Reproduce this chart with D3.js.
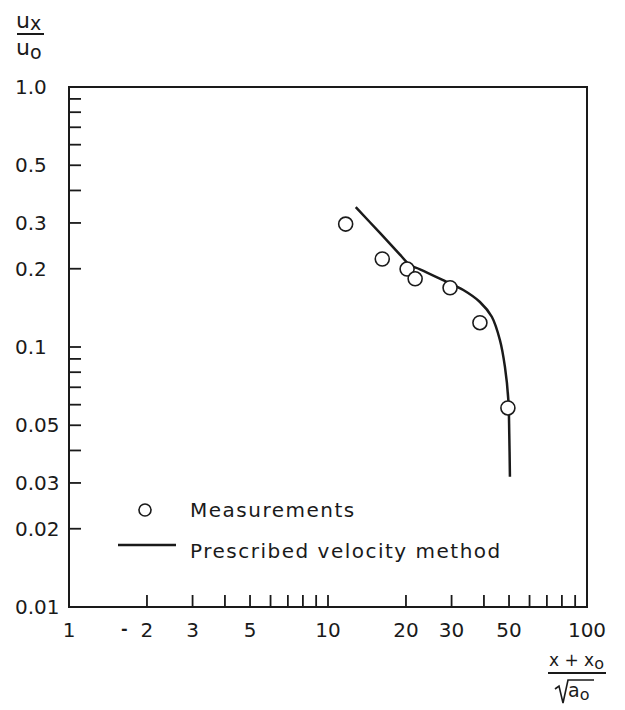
<!DOCTYPE html>
<html>
<head>
<meta charset="utf-8">
<script src="https://cdnjs.cloudflare.com/ajax/libs/d3/7.8.5/d3.min.js"></script>
<style>
  body { margin: 0; background: #fff; font-family: "DejaVu Sans", sans-serif; }
  text { fill: #1a1a1a; }
</style>
</head>
<body>
<div id="chart"></div>
<script>
// measured points (x + xo)/sqrt(ao), ux/uo
var measX = [11.7, 16.2, 20.2, 21.7, 29.6, 38.6, 49.5];
var measY = [0.297, 0.218, 0.1995, 0.183, 0.169, 0.124, 0.0583];

// prescribed velocity method curve
var curveX = [12.8, 15.9, 19.0, 20.7, 22.65, 28.7, 33.3, 38.6, 42.9, 46.1, 48.2, 49.7, 50.1, 50.4];
var curveY = [0.345, 0.274, 0.226, 0.2067, 0.199, 0.178, 0.1657, 0.149, 0.1307, 0.1064, 0.084, 0.0625, 0.0466, 0.0317];

// ticks
var xTicks = [2, 3, 4, 5, 6, 7, 8, 9, 10, 20, 30, 40, 50, 60, 70, 80, 90];
var xLabels = [1, 2, 3, 5, 10, 20, 30, 50, 100];
var yTicks = [0.9, 0.8, 0.7, 0.6, 0.5, 0.4, 0.3, 0.2, 0.1, 0.09, 0.08, 0.07, 0.06, 0.05, 0.04, 0.03, 0.02];
var yLabels = [1.0, 0.5, 0.3, 0.2, 0.1, 0.05, 0.03, 0.02, 0.01];

var legendItems = ["Measurements", "Prescribed velocity method"];

var margin = {top: 87, right: 38, bottom: 103, left: 69};
var W = 625, H = 710;
var width = W - margin.left - margin.right,
    height = H - margin.top - margin.bottom;

var svg = d3.select("#chart").append("svg")
    .attr("width", W)
    .attr("height", H);

var g = svg.append("g")
    .attr("transform", "translate(" + margin.left + "," + margin.top + ")");

var x = d3.scaleLog().domain([1, 100]).range([0, width]);
var y = d3.scaleLog().domain([0.01, 1]).range([height, 0]);

// frame
g.append("rect")
    .attr("width", width)
    .attr("height", height)
    .attr("fill", "none")
    .attr("stroke", "#1a1a1a")
    .attr("stroke-width", 2);

// inner ticks
g.selectAll(".xt").data(xTicks).enter().append("line")
    .attr("x1", d => x(d)).attr("x2", d => x(d))
    .attr("y1", height).attr("y2", height - 12)
    .attr("stroke", "#1a1a1a").attr("stroke-width", 1.8);

g.selectAll(".yt").data(yTicks).enter().append("line")
    .attr("x1", 0).attr("x2", 12)
    .attr("y1", d => y(d)).attr("y2", d => y(d))
    .attr("stroke", "#1a1a1a").attr("stroke-width", 1.8);

// tick labels
g.selectAll(".xl").data(xLabels).enter().append("text")
    .attr("x", d => x(d))
    .attr("y", height + 30)
    .attr("text-anchor", "middle")
    .style("font-size", "20px")
    .text(d => d);

// stray dash next to "2" in the original
g.append("text")
    .attr("x", x(2) - 26)
    .attr("y", height + 27)
    .style("font-size", "16px")
    .style("font-weight", "bold")
    .text("-");

var yFmt = function(d) { return d === 1 ? "1.0" : String(d); };
g.selectAll(".yl").data(yLabels).enter().append("text")
    .attr("x", -54)
    .attr("y", d => y(d))
    .attr("dy", "0.35em")
    .style("font-size", "20px")
    .text(yFmt);

// curve
var line = d3.line()
    .x(d => x(d[0]))
    .y(d => y(d[1]))
    .curve(d3.curveCatmullRom.alpha(0.5));

g.append("path")
    .datum(curveX.map((v, i) => [v, curveY[i]]))
    .attr("d", line)
    .attr("fill", "none")
    .attr("stroke", "#1a1a1a")
    .attr("stroke-width", 2.5);

// measurements
g.selectAll(".pt").data(measX.map((v, i) => [v, measY[i]])).enter().append("circle")
    .attr("cx", d => x(d[0]))
    .attr("cy", d => y(d[1]))
    .attr("r", 7)
    .attr("fill", "#fff")
    .attr("stroke", "#1a1a1a")
    .attr("stroke-width", 1.6);

// legend
var legend = svg.append("g").attr("class", "legend");
legend.append("circle")
    .attr("cx", 145).attr("cy", 510).attr("r", 6)
    .attr("fill", "none").attr("stroke", "#1a1a1a").attr("stroke-width", 1.6);
legend.append("line")
    .attr("x1", 118).attr("x2", 176).attr("y1", 545).attr("y2", 545)
    .attr("stroke", "#1a1a1a").attr("stroke-width", 2.5);
legend.selectAll(".lt").data(legendItems).enter().append("text")
    .attr("x", 190)
    .attr("y", (d, i) => 517 + i * 41)
    .style("font-size", "20px")
    .style("letter-spacing", "1.5px")
    .text(d => d);

// y axis title: ux / uo
var yt = svg.append("g");
var num = yt.append("text").attr("x", 16).attr("y", 28).style("font-size", "22px");
num.append("tspan").text("u");
num.append("tspan").attr("dy", 2).style("font-size", "19px").text("x");
yt.append("line").attr("x1", 17).attr("x2", 44).attr("y1", 34).attr("y2", 34)
    .attr("stroke", "#1a1a1a").attr("stroke-width", 2);
var den = yt.append("text").attr("x", 16).attr("y", 55).style("font-size", "22px");
den.append("tspan").text("u");
den.append("tspan").attr("dy", 4).style("font-size", "19px").text("o");

// x axis title: (x + xo) / sqrt(ao)
var xt = svg.append("g");
var xn = xt.append("text").attr("x", 549).attr("y", 666).style("font-size", "17px");
xn.append("tspan").text("x + x");
xn.append("tspan").attr("dy", 3).style("font-size", "16px").text("o");
xt.append("line").attr("x1", 548).attr("x2", 606).attr("y1", 673).attr("y2", 673)
    .attr("stroke", "#1a1a1a").attr("stroke-width", 1.8);
xt.append("path")
    .attr("d", "M555,689 L559,686 L563,703 L568,680 L594,680")
    .attr("fill", "none").attr("stroke", "#1a1a1a").attr("stroke-width", 1.6);
var xd = xt.append("text").attr("x", 568).attr("y", 697).style("font-size", "19px");
xd.append("tspan").text("a");
xd.append("tspan").attr("dy", 3).style("font-size", "16px").text("o");
</script>
</body>
</html>
